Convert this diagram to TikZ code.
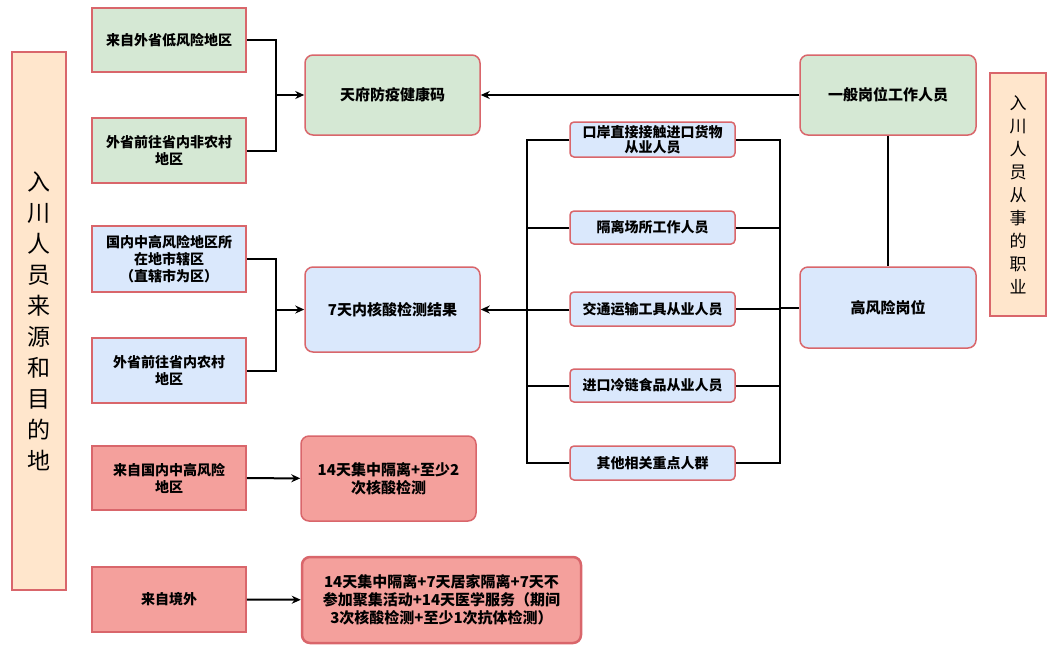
\documentclass[tikz,border=0pt]{standalone}
\usepackage{fontspec}
\setmainfont{Noto Sans CJK SC}
\usetikzlibrary{arrows.meta}
\definecolor{bd}{HTML}{D9666B}
\definecolor{gr}{HTML}{D5E8D4}
\definecolor{bl}{HTML}{DAE8FC}
\definecolor{rd}{HTML}{F4A09C}
\definecolor{og}{HTML}{FFE6CC}
\begin{document}
\begin{tikzpicture}[x=1pt,y=-1pt,
 box/.style={draw=bd,line width=1.5pt,align=center,font=\fontsize{14}{17}\selectfont\bfseries,inner sep=2pt},
 rbox/.style={box,rounded corners=8pt},
 ln/.style={line width=2pt},
 ar/.style={ln,-{Stealth[length=9pt,width=8pt]}}]
\useasboundingbox (0,0) rectangle (1056,654);
\def\bx#1#2#3#4#5#6#7{\pgfmathsetmacro\bxw{#3-#2}\pgfmathsetmacro\bxh{#5-#4}\pgfmathsetmacro\bxt{#3-#2-8}\node[#6,minimum width=\bxw pt,minimum height=\bxh pt,text width=\bxt pt] (#1) at ({(#2+#3)/2},{(#4+#5)/2}) {#7};}
\bx{L}{12}{66}{52}{590}{box,fill=og,font=\fontsize{23}{31}\selectfont}{入\\川\\人\\员\\来\\源\\和\\目\\的\\地}
\bx{R}{990}{1046}{73}{316}{box,fill=og,font=\fontsize{17}{23}\selectfont}{入\\川\\人\\员\\从\\事\\的\\职\\业}
\bx{A1}{92}{246}{8}{72}{box,fill=gr}{来自外省低风险地区}
\bx{A2}{92}{246}{118}{183}{box,fill=gr}{外省前往省内非农村\\地区}
\bx{G}{305}{480}{55}{135}{rbox,fill=gr,font=\fontsize{15}{18}\selectfont\bfseries}{天府防疫健康码}
\bx{B1}{92}{246}{226}{292}{box,fill=bl}{国内中高风险地区所\\在地市辖区\\（直辖市为区）}
\bx{B2}{92}{246}{338}{403}{box,fill=bl}{外省前往省内农村\\地区}
\bx{N}{305}{480}{267}{352}{rbox,fill=bl,font=\fontsize{15}{18}\selectfont\bfseries}{7天内核酸检测结果}
\bx{C1}{92}{246}{446}{510}{box,fill=rd}{来自国内中高风险\\地区}
\bx{C2}{301}{476}{436}{521}{rbox,fill=rd,font=\fontsize{15}{18}\selectfont\bfseries}{14天集中隔离+至少2\\次核酸检测}
\bx{D1}{92}{246}{567}{632}{box,fill=rd}{来自境外}
\bx{D2}{302}{581}{557}{643}{rbox,fill=rd,line width=2.5pt,font=\fontsize{15}{18}\selectfont\bfseries}{14天集中隔离+7天居家隔离+7天不\\参加聚集活动+14天医学服务（期间\\3次核酸检测+至少1次抗体检测）}
\bx{J1}{800}{976}{55}{135}{rbox,fill=gr,font=\fontsize{15}{18}\selectfont\bfseries}{一般岗位工作人员}
\bx{J2}{800}{976}{267}{348}{rbox,fill=bl,font=\fontsize{15}{18}\selectfont\bfseries}{高风险岗位}
\bx{M1}{570}{735}{122}{157}{rbox,fill=bl,rounded corners=4pt,inner sep=0pt,font=\fontsize{14}{15}\selectfont\bfseries}{口岸直接接触进口货物\\从业人员}
\bx{M2}{570}{735}{211}{244}{rbox,fill=bl,rounded corners=4pt}{隔离场所工作人员}
\bx{M3}{570}{735}{292}{326}{rbox,fill=bl,rounded corners=4pt}{交通运输工具从业人员}
\bx{M4}{570}{735}{369}{402}{rbox,fill=bl,rounded corners=4pt}{进口冷链食品从业人员}
\bx{M5}{570}{735}{446}{480}{rbox,fill=bl,rounded corners=4pt}{其他相关重点人群}
\coordinate (a) at (276,0|-G.west);
\draw[ln] (A1.east) -| (a) |- (A2.east);
\draw[ar] (a) -- (G.west);
\coordinate (b) at (276,0|-N.west);
\draw[ln] (B1.east) -| (b) |- (B2.east);
\draw[ar] (b) -- (N.west);
\draw[ar] (C1) -- (C2);
\draw[ar] (D1) -- (D2);
\draw[ar] (J1) -- (G);
\draw[ln] (J1) -- (J1|-J2.north);
\draw[ln] (M1.west) -| (527,463) -- (M5.west);
\foreach \m in {M2,M4} \draw[ln] (\m.west) -- (527,0|-\m.west);
\draw[ar] (M3.west|-N.east) -- (N.east);
\draw[ln] (M1.east) -| (780,463) -- (M5.east);
\foreach \m in {M2,M3,M4} \draw[ln] (\m.east) -- (780,0|-\m.east);
\coordinate (mr) at (780,0|-J2.west);
\draw[ln] (mr) -- (J2.west);
\end{tikzpicture}
\end{document}
